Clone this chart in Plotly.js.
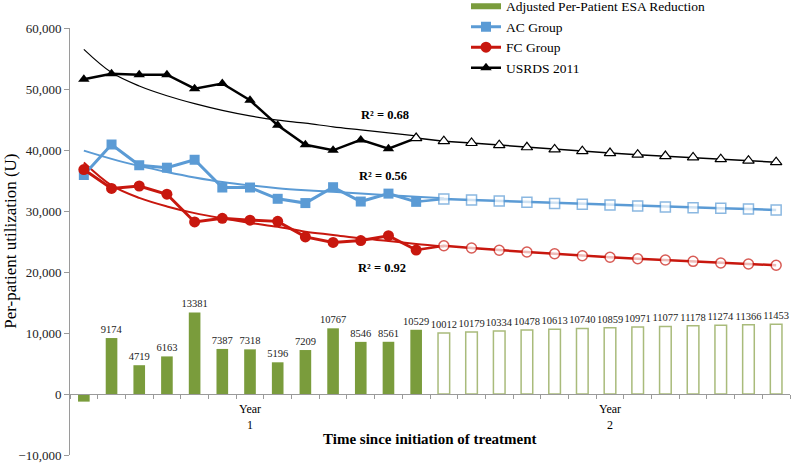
<!DOCTYPE html>
<html><head><meta charset="utf-8">
<script src="https://cdn.plot.ly/plotly-3.0.1.min.js"></script>
<style>html,body{margin:0;padding:0;background:#fff}#chart{width:793px;height:463px}</style>
</head><body><div id="chart"></div>
<script>
// Categories: 13 periods in year 1, 13 in year 2
const periods = ['Y1-P1','Y1-P2','Y1-P3','Y1-P4','Y1-P5','Y1-P6','Y1-P7','Y1-P8','Y1-P9','Y1-P10','Y1-P11','Y1-P12','Y1-P13',
                 'Y2-P1','Y2-P2','Y2-P3','Y2-P4','Y2-P5','Y2-P6','Y2-P7','Y2-P8','Y2-P9','Y2-P10','Y2-P11','Y2-P12','Y2-P13'];
const yearLabels = ['Year<br>1', 'Year<br>2'];

// Adjusted per-patient ESA reduction (bars)
const esaActual    = [-1250, 9174, 4719, 6163, 13381, 7387, 7318, 5196, 7209, 10767, 8546, 8561, 10529];
const esaProjected = [10012, 10179, 10334, 10478, 10613, 10740, 10859, 10971, 11077, 11178, 11274, 11366, 11453];

// AC Group
const acActual    = [35900, 40900, 37500, 37100, 38400, 33850, 33850, 32000, 31300, 33900, 31550, 32850, 31500];
const acProjected = [31950, 31800, 31650, 31450, 31250, 31100, 30980, 30820, 30660, 30540, 30440, 30330, 30170];
const acTrend     = [39900, 38550, 37400, 36400, 35500, 34750, 34200, 33750, 33420, 33150, 32880, 32600, 32350, 32080];

// FC Group
const fcActual    = [36800, 33700, 34100, 32750, 28200, 28800, 28500, 28300, 25750, 24850, 25150, 25950, 23600];
const fcProjected = [24300, 23930, 23560, 23280, 23000, 22670, 22410, 22180, 21970, 21750, 21480, 21310, 21100];
const fcTrend     = [37950, 34200, 32150, 30750, 29650, 28800, 28050, 27400, 26600, 26070, 25520, 25080, 24600, 24200];

// USRDS 2011
const usrdsActual    = [51600, 52500, 52350, 52350, 50050, 50900, 48150, 44050, 40850, 39950, 41650, 40200];
const usrdsProjected = [41950, 41450, 41150, 40800, 40450, 40100, 39800, 39500, 39230, 39000, 38780, 38500, 38250, 38000];
const usrdsTrend     = [56500, 52700, 50500, 48900, 47600, 46500, 45600, 44900, 44400, 43800, 43300, 42800, 42300];

const r2Labels = ['R² = 0.68', 'R² = 0.56', 'R² = 0.92'];

const FONT = "'Liberation Serif', 'Times New Roman', serif";
const BLUE = '#5b9bd5', RED = '#c8170e', GREEN = '#7a9c3c', HOLLOW_GREEN = '#a9bb7b';

const nA = esaActual.length;
const xActual = periods.slice(0, nA);
const xProj = periods.slice(nA);

const traces = [
  // legend swatch for the bars (flat rectangle like the original)
  {type:'scatter', mode:'lines', name:'Adjusted Per-Patient ESA Reduction', x:[null], y:[null],
   line:{color:GREEN, width:6}, hoverinfo:'skip'},
  {type:'bar', name:'Adjusted Per-Patient ESA Reduction', showlegend:false, x:xActual, y:esaActual,
   text: esaActual.map(v => v > 0 ? String(v) : ''), textposition:'outside', cliponaxis:false, constraintext:'none',
   textfont:{family:FONT, size:10.5, color:'#222'}, marker:{color:GREEN}, width:0.42},
  {type:'bar', name:'Projected ESA Reduction', showlegend:false, x:xProj, y:esaProjected,
   text: esaProjected.map(String), textposition:'outside', cliponaxis:false, constraintext:'none',
   textfont:{family:FONT, size:10.5, color:'#222'},
   marker:{color:'white', line:{color:HOLLOW_GREEN, width:1.5}}, width:0.42},
  // trend lines
  {type:'scatter', mode:'lines', showlegend:false, x:periods.slice(0, usrdsTrend.length), y:usrdsTrend,
   line:{color:'#000', width:1.2, shape:'spline', smoothing:1}},
  {type:'scatter', mode:'lines', showlegend:false, x:periods.slice(0, acTrend.length), y:acTrend,
   line:{color:BLUE, width:2, shape:'spline', smoothing:1}},
  {type:'scatter', mode:'lines', showlegend:false, x:periods.slice(0, fcTrend.length), y:fcTrend,
   line:{color:RED, width:2, shape:'spline', smoothing:1}},
  // actual series
  {type:'scatter', mode:'lines+markers', name:'AC Group', x:xActual, y:acActual,
   line:{color:BLUE, width:3}, marker:{symbol:'square', size:10, color:BLUE}},
  {type:'scatter', mode:'lines+markers', name:'FC Group', x:xActual, y:fcActual,
   line:{color:RED, width:3}, marker:{symbol:'circle', size:11, color:RED}},
  {type:'scatter', mode:'lines+markers', name:'USRDS 2011', x:periods.slice(0, usrdsActual.length + 1),
   y:usrdsActual.concat([usrdsProjected[0]]),
   line:{color:'#000', width:2.5}, marker:{symbol:'triangle-up', size:10, color:'#000'}},
  // projections
  {type:'scatter', mode:'lines+markers', showlegend:false, x:periods.slice(nA - 1), y:[acActual[nA-1]].concat(acProjected),
   line:{color:BLUE, width:2.5},
   marker:{symbol:'square', size:[0].concat(acProjected.map(() => 10)), color:'white', line:{color:BLUE, width:1.5}}},
  {type:'scatter', mode:'lines+markers', showlegend:false, x:periods.slice(nA - 1), y:[fcActual[nA-1]].concat(fcProjected),
   line:{color:RED, width:2.5},
   marker:{symbol:'circle', size:[0].concat(fcProjected.map(() => 10)), color:'white', line:{color:RED, width:1.5}}},
  {type:'scatter', mode:'lines+markers', showlegend:false, x:periods.slice(usrdsActual.length), y:usrdsProjected,
   line:{color:'#000', width:1.5},
   marker:{symbol:'triangle-up', size:10, color:'white', line:{color:'#000', width:1.2}}}
];

const annFont = {family:FONT, size:12.5, color:'#000'};
const layout = {
  width:793, height:463,
  margin:{l:70, r:3, t:28, b:8, autoexpand:false},
  paper_bgcolor:'white', plot_bgcolor:'white',
  font:{family:FONT, color:'#000'},
  barmode:'overlay',
  showlegend:true,
  legend:{xref:'paper', yref:'paper', x:0.55, y:1.087, xanchor:'left', yanchor:'top', itemwidth:30,
          font:{family:FONT, size:13.5, color:'#000'}, bgcolor:'rgba(0,0,0,0)', traceorder:'normal'},
  xaxis:{type:'category', categoryorder:'array', categoryarray:periods, range:[-0.5, periods.length - 0.5],
         anchor:'free', position:1/7, showline:true, linecolor:'#9a9a9a', linewidth:1,
         ticks:'outside', tickson:'boundaries', ticklen:4, tickcolor:'#9a9a9a',
         showticklabels:false, showgrid:false, zeroline:false, fixedrange:true},
  yaxis:{range:[-10000, 60000], dtick:10000, tickformat:',d', showline:true, linecolor:'#9a9a9a', linewidth:1,
         ticks:'outside', ticklen:5, tickcolor:'#9a9a9a', showgrid:false, zeroline:false,
         tickfont:{family:FONT, size:13, color:'#222'}, domain:[0,1]},
  annotations:[
    {xref:'paper', yref:'paper', x:-0.083, y:0.5, text:'Per-patient utilization (U)', textangle:-90,
     showarrow:false, font:{family:FONT, size:17, color:'#000'}, xanchor:'center', yanchor:'middle'},
    {xref:'paper', yref:'y', x:0.5, y:-7300, text:'<b>Time since initiation of treatment</b>',
     showarrow:false, font:{family:FONT, size:15, color:'#000'}, xanchor:'center', yanchor:'middle'},
    {xref:'x', yref:'y', x:6, y:-3800, text:yearLabels[0], showarrow:false,
     font:{family:FONT, size:12, color:'#000'}, xanchor:'center', yanchor:'middle'},
    {xref:'x', yref:'y', x:19, y:-3800, text:yearLabels[1], showarrow:false,
     font:{family:FONT, size:12, color:'#000'}, xanchor:'center', yanchor:'middle'},
    {xref:'x', yref:'y', x:10.88, y:45800, text:'<b>' + r2Labels[0] + '</b>', showarrow:false, font:annFont},
    {xref:'x', yref:'y', x:10.8, y:35670, text:'<b>' + r2Labels[1] + '</b>', showarrow:false, font:annFont},
    {xref:'x', yref:'y', x:10.77, y:20640, text:'<b>' + r2Labels[2] + '</b>', showarrow:false, font:annFont}
  ]
};

Plotly.newPlot('chart', traces, layout, {displayModeBar:false, staticPlot:true});
</script></body></html>
